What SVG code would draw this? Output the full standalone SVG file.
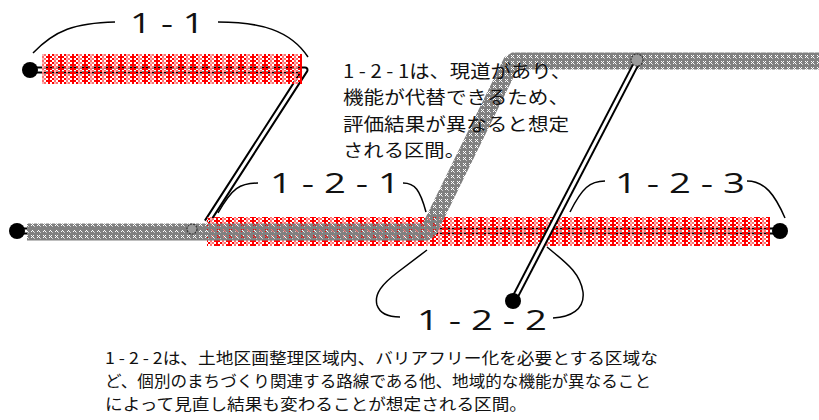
<svg xmlns="http://www.w3.org/2000/svg" width="819" height="420" viewBox="0 0 819 420">
<style>
.ro{fill:none;stroke:#000;stroke-width:7;stroke-linejoin:round}
.ri{fill:none;stroke:#fff;stroke-width:3;stroke-linejoin:round}
.br{fill:none;stroke:#000;stroke-width:1.5}
.lbl{font-family:"Open Sans","Noto Sans",sans-serif;font-size:28px;fill:#111}
.jt{font-family:"Noto Sans CJK JP","Noto Sans",sans-serif;fill:#111}
.dot{fill:#000}
.sc{fill:#9a9a9a;stroke:#333;stroke-width:1.2;stroke-dasharray:2 1}
</style>
<defs>
<pattern id="red" patternUnits="userSpaceOnUse" width="12" height="4">
<rect x="2" y="0" width="2" height="2" fill="#f00"/><rect x="4" y="2" width="2" height="2" fill="#f00"/>
<rect x="6" y="0" width="2" height="2" fill="#ff7070"/><rect x="8" y="2" width="2" height="2" fill="#ff7070"/>
<rect x="10" y="0" width="2" height="2" fill="#f00"/>
<rect x="0" y="0" width="2" height="4" fill="#f00"/>
<rect x="6" y="2" width="2" height="2" fill="#ffb4b4"/>
</pattern>
<pattern id="grey" patternUnits="userSpaceOnUse" width="6" height="6">
<path d="M0,0h6v6h-6z M1,1h1v1h-1z M3,1h1v1h-1z M2,2h1v1h-1z M1,3h1v1h-1z M3,3h1v1h-1z" fill="#808080" fill-rule="evenodd"/>
<rect x="4" y="4" width="1" height="1" fill="#c8c8c8"/>
</pattern>
</defs>

<g id="connectors">
<path id="road-1-1" class="ro" d="M30,70 L305,70 L207,222"/>
<path class="ri" d="M30,70 L305,70 L207,222"/>
<path id="road-main" class="ro" d="M17,231 L780,231"/>
<path class="ri" d="M17,231 L780,231"/>
</g>

<g id="band-1-1"><rect x="42" y="54" width="260" height="30" fill="url(#red)"/></g>
<g id="band-1-2"><rect x="207" y="217" width="563" height="29" fill="url(#red)"/></g>
<g id="band-grey"><polyline points="27,232 428,232 512,61 819,61" fill="none" stroke="url(#grey)" stroke-width="17" stroke-linejoin="bevel"/></g>

<g id="road-1-2-2">
<path class="ro" d="M513,301 L636,64"/>
<path class="ri" d="M513,301 L636,64"/>
</g>

<g id="nodes">
<circle class="dot" cx="30" cy="70" r="8"/>
<circle class="dot" cx="17" cy="231" r="8"/>
<circle class="dot" cx="780" cy="231" r="8"/>
<circle class="dot" cx="513" cy="301" r="8"/>
<circle class="sc" cx="192" cy="229" r="5"/>
<circle class="sc" cx="637" cy="60" r="6"/>
</g>

<g id="brackets">
<path class="br" d="M33,53 C55,30 75,23 115,22"/>
<path class="br" d="M218,22 C260,22 290,30 308,57"/>
<path class="br" d="M258,183 C240,183 232,188 218,213"/>
<path class="br" d="M403,183 C415,183 420,190 426,212"/>
<path class="br" d="M605,181 C590,181 582,188 570,212"/>
<path class="br" d="M747,181 C765,181 775,195 785,218"/>
<path class="br" d="M427,250 L398,272 C382,284 374,294 377,305 C380,314 390,317 400,317"/>
<path class="br" d="M547,247 C565,262 580,272 583,292 C585,310 570,317 553,318"/>
</g>

<g id="labels">
<text class="lbl" x="130" y="33" textLength="74" lengthAdjust="spacingAndGlyphs">1 - 1</text>
<text class="lbl" x="270" y="193" textLength="130" lengthAdjust="spacingAndGlyphs">1 - 2 - 1</text>
<text class="lbl" x="615" y="193" textLength="130" lengthAdjust="spacingAndGlyphs">1 - 2 - 3</text>
<text class="lbl" x="417" y="330" textLength="130" lengthAdjust="spacingAndGlyphs">1 - 2 - 2</text>
</g>

<g id="note-1-2-1" class="jt" font-size="18">
<text x="343" y="78" textLength="228" lengthAdjust="spacingAndGlyphs">1 - 2 - 1は、現道があり、</text>
<text x="343" y="104" textLength="226" lengthAdjust="spacingAndGlyphs">機能が代替できるため、</text>
<text x="343" y="131" textLength="226" lengthAdjust="spacingAndGlyphs">評価結果が異なると想定</text>
<text x="343" y="157" textLength="122" lengthAdjust="spacingAndGlyphs">される区間。</text>
</g>

<g id="note-1-2-2" class="jt" font-size="15.8">
<text x="105" y="364" textLength="553" lengthAdjust="spacingAndGlyphs">1 - 2 - 2は、土地区画整理区域内、バリアフリー化を必要とする区域な</text>
<text x="105" y="387" textLength="546" lengthAdjust="spacingAndGlyphs">ど、個別のまちづくり関連する路線である他、地域的な機能が異なること</text>
<text x="105" y="410" textLength="422" lengthAdjust="spacingAndGlyphs">によって見直し結果も変わることが想定される区間。</text>
</g>
</svg>
